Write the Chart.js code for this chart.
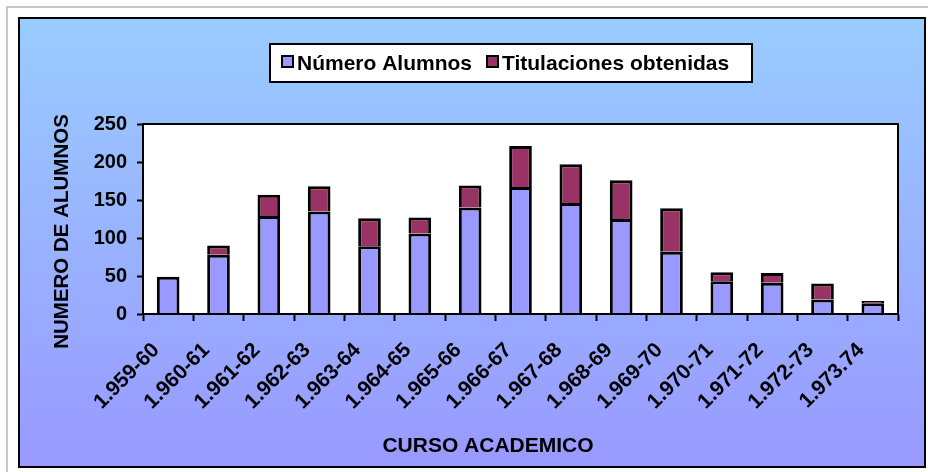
<!DOCTYPE html>
<html>
<head>
<meta charset="utf-8">
<script src="https://cdn.jsdelivr.net/npm/chart.js@4/dist/chart.umd.min.js"></script>
<style>
  html, body { margin: 0; padding: 0; background: #ffffff; }
  #wrap { width: 928px; height: 472px; }
</style>
</head>
<body>
<div id="wrap"><canvas id="c" width="928" height="472"></canvas></div>
<script>
const categories = ["1.959-60","1.960-61","1.961-62","1.962-63","1.963-64","1.964-65","1.965-66","1.966-67","1.967-68","1.968-69","1.969-70","1.970-71","1.971-72","1.972-73","1.973.74"];
const numeroAlumnos = [49, 78, 129, 135, 89, 106, 140, 167, 146, 125, 82, 43, 41, 19, 14];
const titulaciones = [0, 12, 28, 33, 37, 21, 29, 54, 51, 51, 57, 12, 13, 21, 3];
const seriesNames = ["Número Alumnos", "Titulaciones obtenidas"];
const yTicks = [0, 50, 100, 150, 200, 250];
const xTitle = "CURSO ACADEMICO";
const yTitle = "NUMERO DE ALUMNOS";

const FONT = "'Liberation Sans', Arial, sans-serif";

const framePlugin = {
  id: 'frame',
  beforeDraw(chart) {
    const ctx = chart.ctx;
    const W = chart.width, H = chart.height;
    ctx.save();
    ctx.fillStyle = '#ffffff';
    ctx.fillRect(0, 0, W, H);
    ctx.strokeStyle = '#c8c8c8';
    ctx.lineWidth = 2;
    ctx.beginPath();
    ctx.moveTo(7, H); ctx.lineTo(7, 7); ctx.lineTo(W, 7);
    ctx.stroke();
    const bx = 19, by = 18, bw = 906, bh = 449;
    const g = ctx.createLinearGradient(0, by, 0, by + bh);
    g.addColorStop(0, '#99ccff');
    g.addColorStop(1, '#9999ff');
    ctx.fillStyle = g;
    ctx.fillRect(bx, by, bw, bh);
    ctx.strokeStyle = '#000000';
    ctx.lineWidth = 2;
    ctx.strokeRect(bx, by, bw, bh);
    const a = chart.chartArea;
    ctx.fillStyle = '#ffffff';
    ctx.fillRect(a.left, a.top, a.right - a.left, a.bottom - a.top);
    ctx.restore();
  },
  afterDraw(chart) {
    const ctx = chart.ctx;
    const a = chart.chartArea;
    ctx.save();
    ctx.strokeStyle = '#000000';
    ctx.lineWidth = 2;
    ctx.strokeRect(a.left, a.top, a.right - a.left, a.bottom - a.top);

    // legend
    ctx.fillStyle = '#ffffff';
    ctx.fillRect(270, 44, 482, 38);
    ctx.strokeRect(270, 44, 482, 38);
    ctx.font = "bold 21px " + FONT;
    ctx.textBaseline = 'alphabetic';
    ctx.textAlign = 'left';
    let x = 281;
    chart.data.datasets.forEach((ds) => {
      ctx.fillStyle = ds.backgroundColor;
      ctx.fillRect(x, 55, 13, 13);
      ctx.lineWidth = 2;
      ctx.strokeStyle = '#000000';
      ctx.strokeRect(x + 1, 56, 11, 11);
      ctx.fillStyle = '#000000';
      ctx.fillText(ds.label, x + 16, 69.5);
      x += 16 + ctx.measureText(ds.label).width + 14;
    });

    // axis titles
    ctx.fillStyle = '#000000';
    ctx.font = "bold 21px " + FONT;
    ctx.textAlign = 'center';
    ctx.fillText(xTitle, 488, 451.5);
    ctx.save();
    ctx.translate(68, 231.5);
    ctx.rotate(-Math.PI / 2);
    ctx.font = "bold 20.5px " + FONT;
    ctx.fillText(yTitle, 0, 0);
    ctx.restore();
    ctx.restore();
  }
};

new Chart(document.getElementById('c'), {
  type: 'bar',
  data: {
    labels: categories,
    datasets: [
      { label: seriesNames[0], data: numeroAlumnos, backgroundColor: '#9999ff', borderColor: '#000000',
        borderWidth: { top: 3, left: 3, right: 3, bottom: 0 }, borderSkipped: false, inflateAmount: 0, categoryPercentage: 1, barPercentage: 0.45 },
      { label: seriesNames[1], data: titulaciones, backgroundColor: '#993366', borderColor: '#000000',
        borderWidth: { top: 3, left: 3, right: 3, bottom: 0 }, borderSkipped: false, inflateAmount: 0, categoryPercentage: 1, barPercentage: 0.45 }
    ]
  },
  options: {
    responsive: false,
    animation: false,
    devicePixelRatio: 1,
    layout: { padding: { left: 0, right: 30, top: 124, bottom: 0 } },
    plugins: { legend: { display: false }, tooltip: { enabled: false }, title: { display: false } },
    scales: {
      x: {
        stacked: true,
        afterFit(scale) { scale.height = 158; },
        grid: { drawOnChartArea: false, drawTicks: true, tickLength: 7, tickColor: '#000000', tickWidth: 2, offset: true },
        border: { color: '#000000', width: 2 },
        ticks: {
          autoSkip: false, minRotation: 45, maxRotation: 45, padding: 17, labelOffset: -12,
          color: '#000000', font: { family: FONT, size: 21, weight: 'bold' }
        }
      },
      y: {
        stacked: true,
        min: 0, max: 250,
        afterFit(scale) { scale.width = 143; },
        afterBuildTicks(scale) { scale.ticks = yTicks.map(v => ({ value: v })); },
        grid: { drawOnChartArea: false, drawTicks: true, tickLength: 6, tickColor: '#000000', tickWidth: 2 },
        border: { color: '#000000', width: 2 },
        ticks: { padding: 10, color: '#000000', font: { family: FONT, size: 20, weight: 'bold' } }
      }
    }
  },
  plugins: [framePlugin]
});
</script>
</body>
</html>
